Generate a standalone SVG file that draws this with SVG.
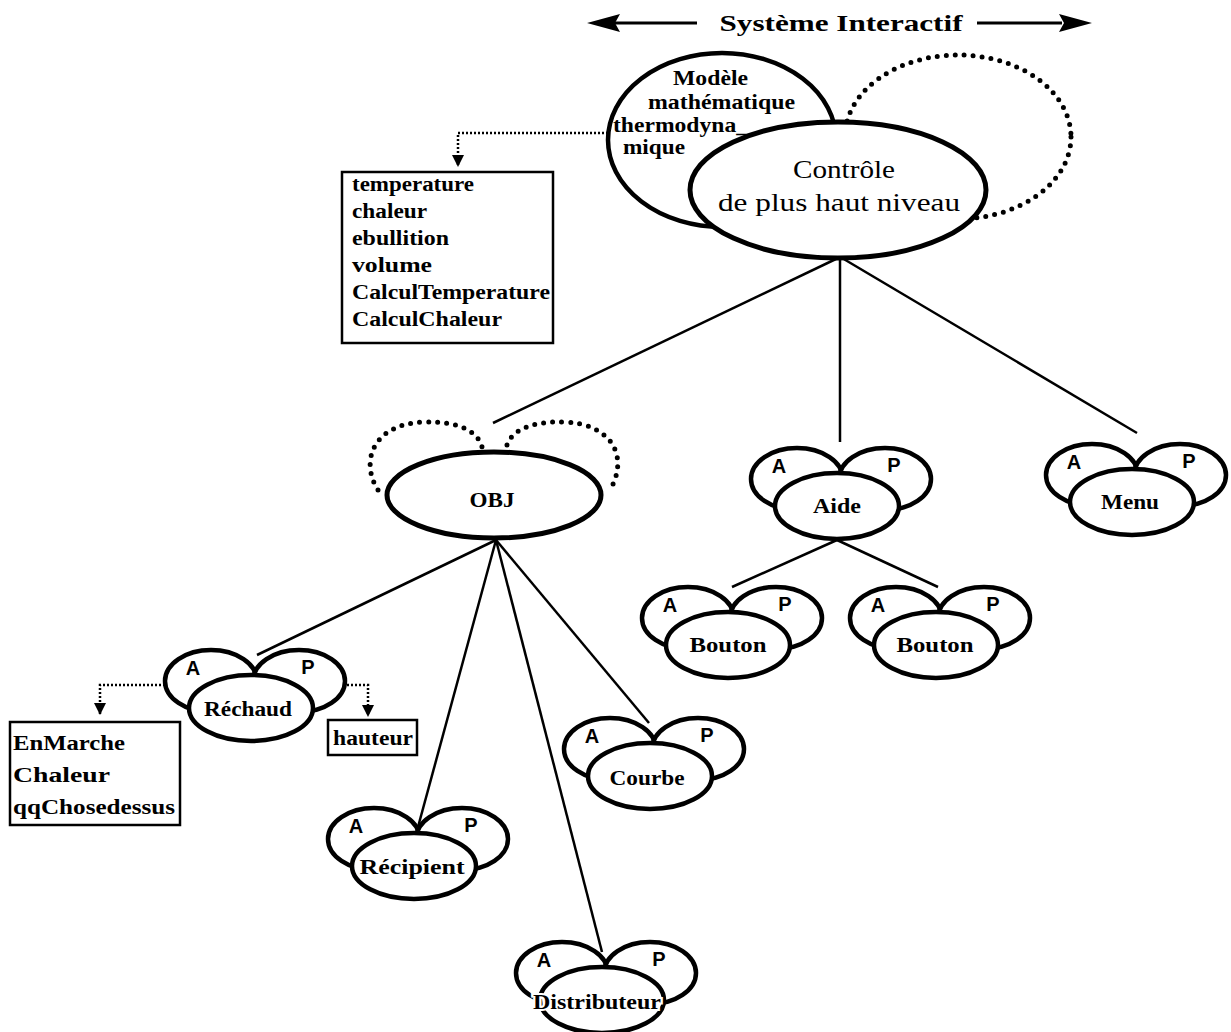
<svg xmlns="http://www.w3.org/2000/svg" xmlns:xlink="http://www.w3.org/1999/xlink" width="1231" height="1032" viewBox="0 0 1231 1032">
  <style>
    .bg { fill: #ffffff; }
    .shape { fill: #ffffff; stroke: #000000; stroke-width: 4.5; }
    .thick { fill: #ffffff; stroke: #000000; stroke-width: 5; }
    .loop { fill: none; stroke: #000000; stroke-width: 5; stroke-dasharray: 0 9; stroke-linecap: round; }
    .edge { fill: none; stroke: #000000; stroke-width: 2.5; }
    .dots { fill: none; stroke: #000000; stroke-width: 2.5; stroke-dasharray: 2 2; }
    .box { fill: #ffffff; stroke: #000000; stroke-width: 2.5; }
    .lbl { font-family: "Liberation Serif", "Times New Roman", serif; font-weight: bold; font-size: 20px; fill: #000000; text-anchor: middle; }
    .halo { stroke: #ffffff; stroke-width: 4; paint-order: stroke; }
    .ap { font-family: "Liberation Sans", Arial, sans-serif; font-weight: bold; font-size: 20px; fill: #000000; text-anchor: middle; }
    .attr { font-family: "Liberation Serif", "Times New Roman", serif; font-weight: bold; font-size: 20px; fill: #000000; }
    .ctl { font-family: "Liberation Serif", "Times New Roman", serif; font-size: 25px; fill: #000000; text-anchor: middle; }
    .title { font-family: "Liberation Serif", "Times New Roman", serif; font-weight: bold; font-size: 24px; fill: #000000; text-anchor: middle; }
  </style>
  <defs>
    <!-- Object with its two sub-parts: A (abstraction) and P (presentation) -->
    <g id="apShape">
      <ellipse class="shape" cx="-40" cy="-27" rx="46" ry="31"/>
      <ellipse class="shape" cx="48" cy="-27" rx="46" ry="31"/>
      <ellipse class="shape" cx="0" cy="0" rx="62" ry="33"/>
      <text class="ap" x="-58" y="-33">A</text>
      <text class="ap" x="57" y="-34">P</text>
    </g>
    <marker id="head" viewBox="0 0 12 12" refX="11" refY="6" markerWidth="12" markerHeight="12" markerUnits="userSpaceOnUse" orient="auto">
      <path d="M0,0 L12,6 L0,12 Z" fill="#000000"/>
    </marker>
  </defs>

  <rect class="bg" x="0" y="0" width="1231" height="1032"/>

  <!-- Title banner with arrows -->
  <g id="title">
    <line x1="615" y1="23" x2="697" y2="23" stroke="#000" stroke-width="3"/>
    <polygon points="587,23 620,14 615,23 620,32" fill="#000"/>
    <line x1="977" y1="23" x2="1062" y2="23" stroke="#000" stroke-width="3"/>
    <polygon points="1092,23 1059,14 1064,23 1059,32" fill="#000"/>
    <text class="title" x="841" y="31" textLength="243" lengthAdjust="spacingAndGlyphs">Système Interactif</text>
  </g>

  <!-- Connectors -->
  <g id="connectors">
    <line class="edge" x1="838" y1="258" x2="493" y2="423"/>
    <line class="edge" x1="840" y1="258" x2="840" y2="442"/>
    <line class="edge" x1="842" y1="258" x2="1137" y2="433"/>
    <line class="edge" x1="496" y1="540" x2="257" y2="655"/>
    <line class="edge" x1="496" y1="540" x2="418" y2="827"/>
    <line class="edge" x1="496" y1="540" x2="602" y2="952"/>
    <line class="edge" x1="496" y1="540" x2="649" y2="723"/>
    <line class="edge" x1="837" y1="540" x2="732" y2="587"/>
    <line class="edge" x1="837" y1="540" x2="938" y2="587"/>
    <!-- attribute references -->
    <path class="dots" d="M608,133 H458 V166" marker-end="url(#head)"/>
    <path class="dots" d="M165,685 H100 V714" marker-end="url(#head)"/>
    <path class="dots" d="M343,685 H368 V716" marker-end="url(#head)"/>
  </g>

  <!-- Top-level control with its mathematical model -->
  <g id="modele">
    <ellipse class="shape" cx="722" cy="140" rx="114" ry="87"/>
    <text class="attr" x="673" y="85" textLength="75" lengthAdjust="spacingAndGlyphs">Modèle</text>
    <text class="attr" x="648" y="109" textLength="147" lengthAdjust="spacingAndGlyphs">mathématique</text>
    <text class="attr" x="613" y="132" textLength="135" lengthAdjust="spacingAndGlyphs">thermodyna_</text>
    <text class="attr" x="623" y="154" textLength="62" lengthAdjust="spacingAndGlyphs">mique</text>
  </g>
  <g id="controle">
    <ellipse class="loop" cx="958" cy="137" rx="113" ry="82"/>
    <ellipse class="thick" cx="838" cy="190" rx="148" ry="68"/>
    <text class="ctl" x="844" y="178" textLength="102" lengthAdjust="spacingAndGlyphs">Contrôle</text>
    <text class="ctl" x="839" y="211" textLength="242" lengthAdjust="spacingAndGlyphs">de plus haut niveau</text>
  </g>

  <g id="modele-attributs">
    <rect class="box" x="342" y="172" width="211" height="171"/>
    <text class="attr" x="352" y="191" textLength="122" lengthAdjust="spacingAndGlyphs">temperature</text>
    <text class="attr" x="352" y="218" textLength="75" lengthAdjust="spacingAndGlyphs">chaleur</text>
    <text class="attr" x="352" y="245" textLength="97" lengthAdjust="spacingAndGlyphs">ebullition</text>
    <text class="attr" x="352" y="272" textLength="80" lengthAdjust="spacingAndGlyphs">volume</text>
    <text class="attr" x="352" y="299" textLength="198" lengthAdjust="spacingAndGlyphs">CalculTemperature</text>
    <text class="attr" x="352" y="326" textLength="150" lengthAdjust="spacingAndGlyphs">CalculChaleur</text>
  </g>

  <!-- OBJ with its two dotted loops -->
  <g id="obj">
    <path class="loop" d="M378,490 C360,462 372,424 424,422 C460,421 478,432 482,447"/>
    <path class="loop" d="M507,445 C512,430 532,421 565,422 C610,424 630,455 610,490"/>
    <ellipse class="thick" cx="494" cy="495" rx="107" ry="43"/>
    <text class="lbl" x="492" y="507" textLength="45" lengthAdjust="spacingAndGlyphs">OBJ</text>
  </g>

  <g id="aide">
    <use xlink:href="#apShape" href="#apShape" transform="translate(837,506)"/>
    <text class="lbl" x="837" y="513" textLength="48" lengthAdjust="spacingAndGlyphs">Aide</text>
  </g>
  <g id="menu">
    <use xlink:href="#apShape" href="#apShape" transform="translate(1132,502)"/>
    <text class="lbl" x="1130" y="509" textLength="58" lengthAdjust="spacingAndGlyphs">Menu</text>
  </g>
  <g id="bouton-1">
    <use xlink:href="#apShape" href="#apShape" transform="translate(728,645)"/>
    <text class="lbl" x="728" y="652" textLength="77" lengthAdjust="spacingAndGlyphs">Bouton</text>
  </g>
  <g id="bouton-2">
    <use xlink:href="#apShape" href="#apShape" transform="translate(936,645)"/>
    <text class="lbl" x="935" y="652" textLength="77" lengthAdjust="spacingAndGlyphs">Bouton</text>
  </g>

  <g id="rechaud">
    <use xlink:href="#apShape" href="#apShape" transform="translate(251,708)"/>
    <text class="lbl" x="248" y="716" textLength="88" lengthAdjust="spacingAndGlyphs">Réchaud</text>
  </g>
  <g id="rechaud-attributs-a">
    <rect class="box" x="10" y="722" width="170" height="103"/>
    <text class="attr" x="13" y="750" textLength="112" lengthAdjust="spacingAndGlyphs">EnMarche</text>
    <text class="attr" x="13" y="782" textLength="97" lengthAdjust="spacingAndGlyphs">Chaleur</text>
    <text class="attr" x="13" y="814" textLength="162" lengthAdjust="spacingAndGlyphs">qqChosedessus</text>
  </g>
  <g id="rechaud-attributs-p">
    <rect class="box" x="328" y="720" width="89" height="35"/>
    <text class="attr" x="333" y="745" textLength="80" lengthAdjust="spacingAndGlyphs">hauteur</text>
  </g>

  <g id="courbe">
    <use xlink:href="#apShape" href="#apShape" transform="translate(650,776)"/>
    <text class="lbl" x="647" y="785" textLength="75" lengthAdjust="spacingAndGlyphs">Courbe</text>
  </g>
  <g id="recipient">
    <use xlink:href="#apShape" href="#apShape" transform="translate(414,866)"/>
    <text class="lbl" x="412" y="874" textLength="105" lengthAdjust="spacingAndGlyphs">Récipient</text>
  </g>
  <g id="distributeur">
    <use xlink:href="#apShape" href="#apShape" transform="translate(602,1000)"/>
    <text class="lbl halo" x="597" y="1009" textLength="128" lengthAdjust="spacingAndGlyphs">Distributeur</text>
  </g>
</svg>
